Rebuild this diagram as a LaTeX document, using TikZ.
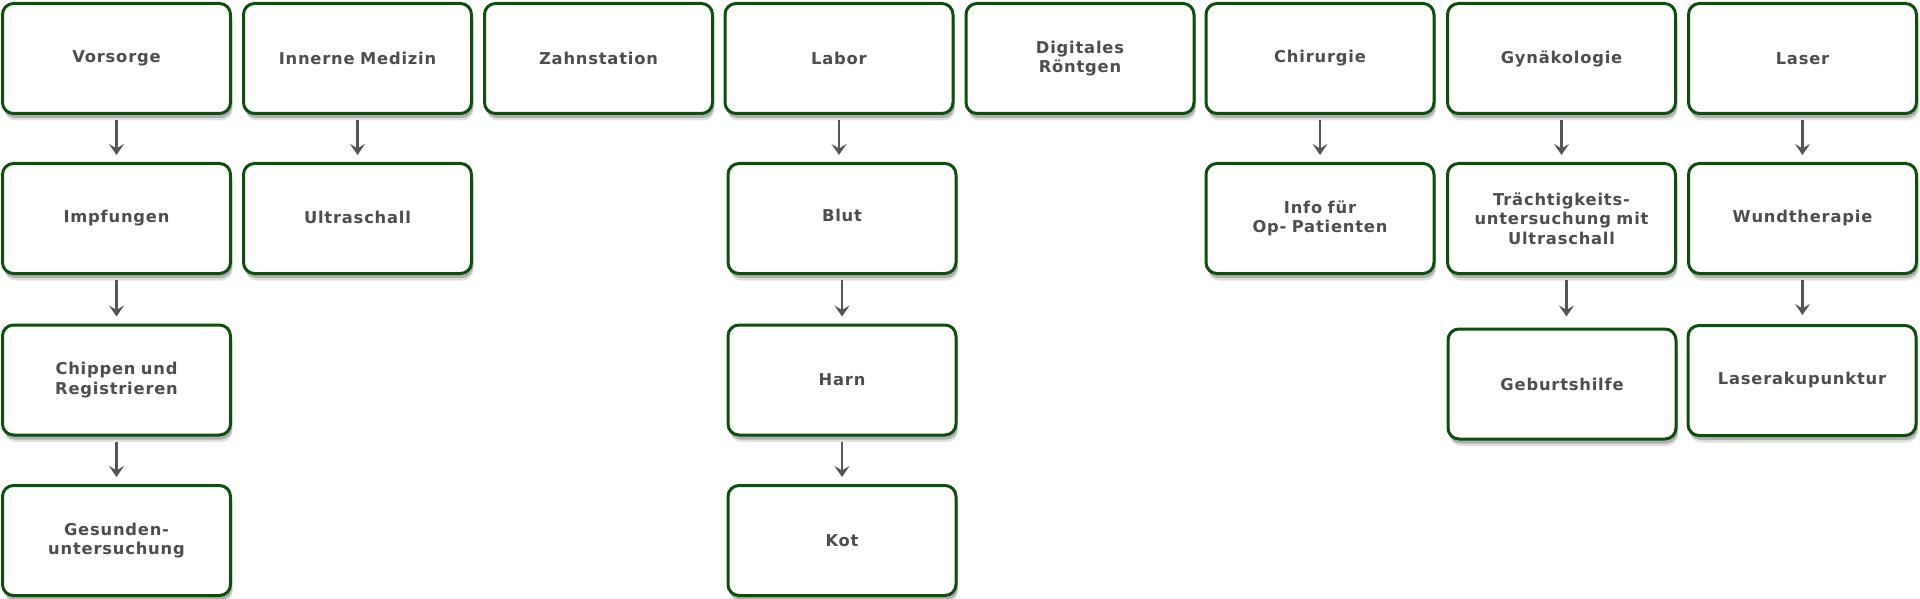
\documentclass[tikz,border=0pt]{standalone}
\usepackage{fontspec}
\newfontfamily\boxfont{DejaVu Sans}[LetterSpace=5]
\usetikzlibrary{arrows.meta,shadows}
\definecolor{boxgreen}{RGB}{14,78,14}
\definecolor{txtgray}{RGB}{77,77,77}
\definecolor{arrgray}{RGB}{85,85,85}
\tikzset{
  box/.style={draw=boxgreen, line width=3pt, fill=white, rounded corners=11pt,
    minimum width=228pt, minimum height=110pt, inner sep=0pt, text width=222pt,
    align=center, text=txtgray,
    font=\boxfont\bfseries\fontsize{16.3}{19.5}\selectfont,
    drop shadow={shadow xshift=2pt, shadow yshift=-7pt, opacity=0.12, fill=black},
    drop shadow={shadow xshift=1.5pt, shadow yshift=-4.5pt, opacity=0.22, fill=black}},
  arr/.style={draw=arrgray, line width=2.5pt,
    -{Stealth[length=11pt,width=15pt,inset=4.5pt]}, shorten <=5pt, shorten >=7pt}
}
\begin{document}
\begin{tikzpicture}[x=1pt,y=-1pt]
\useasboundingbox (0,0) rectangle (1920,599);
% column 1
\node[box] (v1) at (116.5,58.5) {Vorsorge};
\node[box] (v2) at (116.5,218.5) {\raisebox{5pt}{Impfungen}};
\node[box] (v3) at (116.5,380) {Chippen und\\Registrieren};
\node[box] (v4) at (116.5,540.5) {Gesunden-\\untersuchung};
% column 2
\node[box] (i1) at (357.5,58.5) {Innerne Medizin};
\node[box] (i2) at (357.5,218.5) {\raisebox{3pt}{Ultraschall}};
% column 3
\node[box] (z) at (598.5,58.5) {Zahnstation};
% column 4
\node[box] (l1) at (839,58.5) {Labor};
\node[box] (l2) at (842,218.5) {\raisebox{6pt}{Blut}};
\node[box] (l3) at (842,380) {Harn};
\node[box] (l4) at (842,540.5) {Kot};
% column 5
\node[box] (d) at (1080,58.5) {Digitales\\Röntgen};
% column 6
\node[box] (c1) at (1320,58.5) {Chirurgie};
\node[box] (c2) at (1320,218.5) {Info für\\Op- Patienten};
% column 7
\node[box] (g1) at (1561.5,58.5) {Gynäkologie};
\node[box] (g2) at (1561.5,218.5) {Trächtigkeits-\\untersuchung mit\\Ultraschall};
\node[box] (g3) at (1562,384) {Geburtshilfe};
% column 8
\node[box] (s1) at (1802.5,58.5) {\raisebox{-3pt}{Laser}};
\node[box] (s2) at (1802.5,218.5) {\raisebox{5pt}{Wundtherapie}};
\node[box] (s3) at (1802,380.5) {Laserakupunktur};
% arrows
\draw[arr] (v1.south) -- (v1.south |- v2.north);
\draw[arr] (v2.south) -- (v2.south |- v3.north);
\draw[arr] (v3.south) -- (v3.south |- v4.north);
\draw[arr] (i1.south) -- (i1.south |- i2.north);
\draw[arr] (l1.south) -- (l1.south |- l2.north);
\draw[arr] (l2.south) -- (l2.south |- l3.north);
\draw[arr] (l3.south) -- (l3.south |- l4.north);
\draw[arr] (c1.south) -- (c1.south |- c2.north);
\draw[arr] (g1.south) -- (g1.south |- g2.north);
\draw[arr, shorten >=11pt] ([xshift=5pt]g2.south) -- ([xshift=5pt]g2.south |- g3.north);
\draw[arr] (s1.south) -- (s1.south |- s2.north);
\draw[arr, shorten >=9pt] (s2.south) -- (s2.south |- s3.north);
\end{tikzpicture}
\end{document}
